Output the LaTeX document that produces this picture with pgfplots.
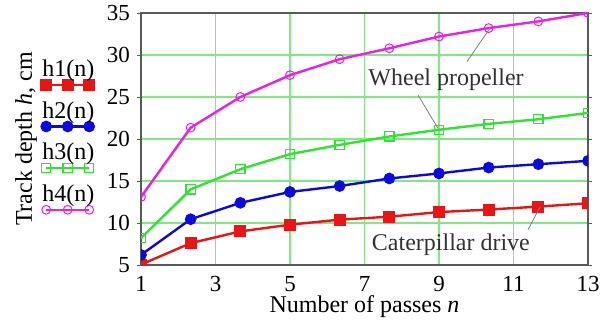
\documentclass[border=0pt]{standalone}
\usepackage{fontspec}
\setmainfont{Liberation Serif}
\usepackage{pgfplots}
\pgfplotsset{compat=1.18}

\definecolor{gridgreen}{RGB}{125,235,125}
\definecolor{hred}{RGB}{235,20,20}
\definecolor{hblue}{RGB}{10,10,225}
\definecolor{hgreen}{RGB}{45,230,45}
\definecolor{hmag}{RGB}{235,30,235}
\definecolor{framegray}{RGB}{90,90,90}

\begin{document}
\begin{tikzpicture}[font=\fontsize{12}{14}\selectfont]
\begin{axis}[
  scale only axis, width=223.5pt, height=126pt,
  xmin=1, xmax=13, ymin=5, ymax=35,
  xtick={1,3,...,13}, ytick={5,10,...,35},
  grid=major, grid style={gridgreen, line width=0.6pt},
  axis line style={framegray, line width=0.6pt},
  tick style={framegray},
  xtick style={draw=none},
  tick align=outside, major tick length=2pt,
  /pgf/number format/assume math mode=true,
  ticklabel style={font=\fontsize{11.5}{13}\selectfont},
  xlabel={Number of passes \textit{n}},
  ylabel={Track depth \textit{h}, cm},
  xlabel style={at={(axis description cs:0.5,-0.1667)}, anchor=center},
  ylabel style={at={(axis description cs:-0.257,0.5)}, anchor=center},
  clip marker paths=true,
  legend cell align=left,
  legend style={
    at={(axis description cs:0,1)}, anchor=north west,
    xshift=-52pt, yshift=-22.5pt,
    draw=none, fill=none, inner sep=0pt, outer sep=0pt,
    column sep=0pt, row sep=9pt,
    nodes={inner xsep=1.5pt, inner ysep=1pt, font=\fontsize{12}{14}\selectfont},
  },
  legend image code/.code={
    \useasboundingbox (0pt,0pt) rectangle (0pt,0pt);
    \draw[mark repeat=1, #1] plot coordinates {(4pt,-7.5pt) (14.75pt,-7.5pt) (25.5pt,-7.5pt)};
  },
]
\addplot[hred, line width=1.2pt, mark=square*, mark size=2.4pt, mark options={solid}] coordinates {
(1,5.05) (2.333,7.6) (3.667,9.0) (5,9.8) (6.333,10.4) (7.667,10.75) (9,11.3) (10.333,11.6) (11.667,11.95) (13,12.35)};
\addlegendentry{h1(n)}
\addplot[hblue, line width=1.2pt, mark=*, mark size=2.3pt, mark options={solid}] coordinates {
(1,6.2) (2.333,10.45) (3.667,12.4) (5,13.7) (6.333,14.4) (7.667,15.3) (9,15.9) (10.333,16.6) (11.667,17.0) (13,17.4)};
\addlegendentry{h2(n)}
\addplot[hgreen, line width=1.2pt, mark=square, mark size=2.3pt, mark options={solid, line width=0.6pt}] coordinates {
(1,8.2) (2.333,14.0) (3.667,16.4) (5,18.2) (6.333,19.3) (7.667,20.3) (9,21.1) (10.333,21.8) (11.667,22.35) (13,23.1)};
\addlegendentry{h3(n)}
\addplot[hmag, line width=1.2pt, mark=o, mark size=2.2pt, mark options={solid, line width=0.5pt}] coordinates {
(1,13.1) (2.333,21.35) (3.667,25.0) (5,27.6) (6.333,29.5) (7.667,30.8) (9,32.2) (10.333,33.2) (11.667,34.0) (13,35.0)};
\addlegendentry{h4(n)}

\node[text=black!80] at (axis cs:9.19,27.0) {Wheel propeller};
\draw[gray, line width=0.4pt] (axis cs:9.75,29.2) -- (axis cs:10.37,33.2);
\draw[gray, line width=0.4pt] (axis cs:8.44,25.2) -- (axis cs:8.97,21.3);
\node[text=black!80] at (axis cs:9.32,7.38) {Caterpillar drive};
\draw[gray, line width=0.4pt] (axis cs:11.39,9.2) -- (axis cs:11.71,11.9);

\coordinate (bl) at (rel axis cs:0,0);
\coordinate (tr) at (rel axis cs:1,1);
\end{axis}
\pgfresetboundingbox
\path ([shift={(-70.5pt,-29.5pt)}]bl) rectangle ([shift={(7.5pt,6.5pt)}]tr);
\end{tikzpicture}
\end{document}
